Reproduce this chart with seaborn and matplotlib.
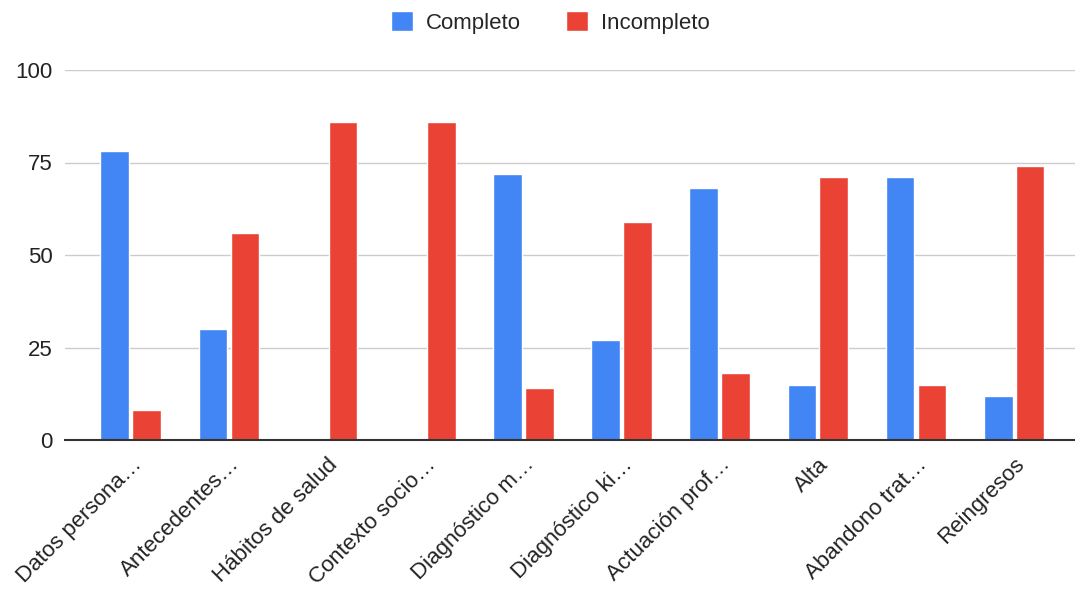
import numpy as np
import pandas as pd
import matplotlib.pyplot as plt
import seaborn as sns
from matplotlib.patches import Patch

categories = [
    "Datos persona…",
    "Antecedentes…",
    "Hábitos de salud",
    "Contexto socio…",
    "Diagnóstico m…",
    "Diagnóstico ki…",
    "Actuación prof…",
    "Alta",
    "Abandono trat…",
    "Reingresos",
]
completo = [78, 30, 0, 0, 72, 27, 68, 15, 71, 12]
incompleto = [8, 56, 86, 86, 14, 59, 18, 71, 15, 74]
series_names = ["Completo", "Incompleto"]
colors = ["#4285F4", "#EA4335"]

df = pd.DataFrame({
    "categoria": categories * 2,
    "valor": completo + incompleto,
    "serie": [series_names[0]] * len(categories) + [series_names[1]] * len(categories),
})

sns.set_theme(style="white")
plt.rcParams["font.family"] = ["Liberation Sans", "DejaVu Sans"]

fig = plt.figure(figsize=(10.75, 5.9), dpi=100)
ax = fig.add_axes([65 / 1075, 1 - 440 / 590, 1 - 65 / 1075, (440 - 70) / 590])

sns.barplot(data=df, x="categoria", y="valor", hue="serie", palette=colors,
            width=0.65, gap=0.1, ax=ax, legend=False, saturation=1)

ax.set_ylim(0, 100)
ax.set_xlim(-0.67, 9.62)
ax.set_yticks([0, 25, 50, 75, 100])
ax.yaxis.grid(True, color="#cccccc", linewidth=1)
ax.set_axisbelow(True)
for s in ["top", "right", "left"]:
    ax.spines[s].set_visible(False)
ax.spines["bottom"].set_color("#333333")
ax.spines["bottom"].set_linewidth(1.5)
ax.tick_params(axis="both", length=0, labelsize=16, labelcolor="#222222")
ax.tick_params(axis="y", pad=9)
ax.tick_params(axis="x", pad=10)
ax.set_xlabel("")
ax.set_ylabel("")
plt.setp(ax.get_xticklabels(), rotation=45, ha="right", rotation_mode="anchor")

handles = [Patch(facecolor=c, label=n) for c, n in zip(colors, series_names)]
fig.legend(handles=handles, loc="center", bbox_to_anchor=(0.512, 0.962), ncol=2,
           frameon=False, fontsize=16, handlelength=1.0, handleheight=1.0,
           columnspacing=2.0, handletextpad=0.6)

fig.savefig("out.png", dpi=100)
